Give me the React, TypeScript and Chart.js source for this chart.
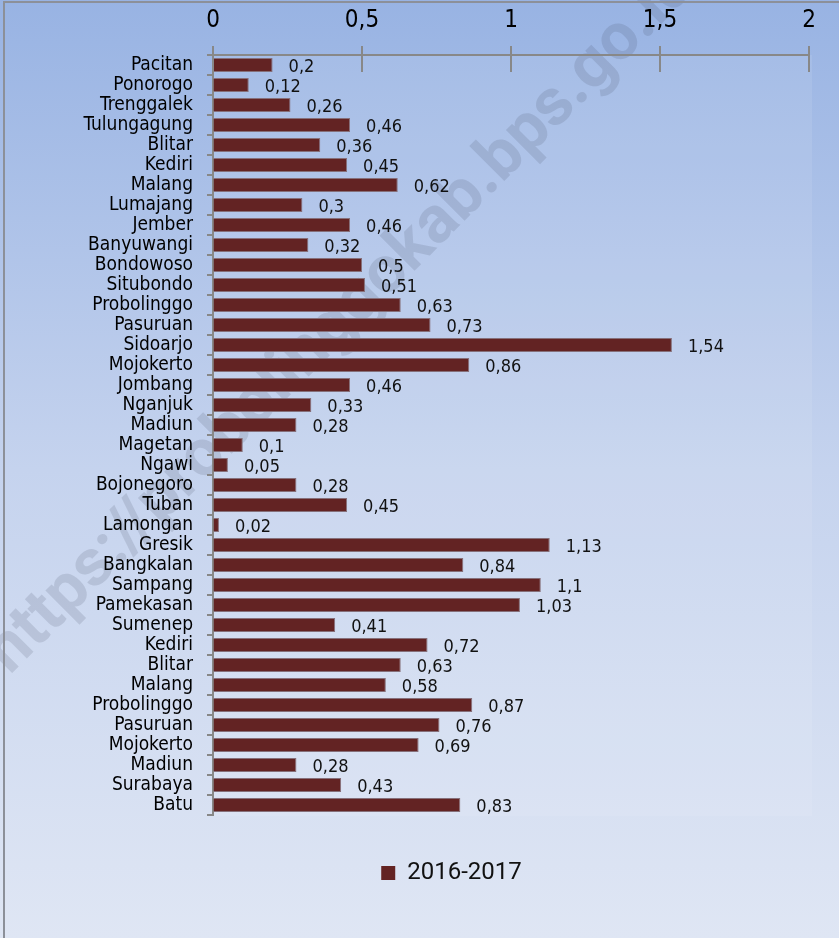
import React, { useEffect, useRef } from "react";
import { Chart, registerables } from "chart.js";

Chart.register(...registerables);

const categories: string[] = [
  "Pacitan", "Ponorogo", "Trenggalek", "Tulungagung", "Blitar", "Kediri", "Malang",
  "Lumajang", "Jember", "Banyuwangi", "Bondowoso", "Situbondo", "Probolinggo", "Pasuruan",
  "Sidoarjo", "Mojokerto", "Jombang", "Nganjuk", "Madiun", "Magetan", "Ngawi",
  "Bojonegoro", "Tuban", "Lamongan", "Gresik", "Bangkalan", "Sampang", "Pamekasan",
  "Sumenep", "Kediri", "Blitar", "Malang", "Probolinggo", "Pasuruan", "Mojokerto",
  "Madiun", "Surabaya", "Batu",
];

const values2016_2017: number[] = [
  0.2, 0.12, 0.26, 0.46, 0.36, 0.45, 0.62,
  0.3, 0.46, 0.32, 0.5, 0.51, 0.63, 0.73,
  1.54, 0.86, 0.46, 0.33, 0.28, 0.1, 0.05,
  0.28, 0.45, 0.02, 1.13, 0.84, 1.1, 1.03,
  0.41, 0.72, 0.63, 0.58, 0.87, 0.76, 0.69,
  0.28, 0.43, 0.83,
];

const seriesLabel = "2016-2017";
const xTicks: number[] = [0, 0.5, 1, 1.5, 2];
const watermark = "https://probolinggokab.bps.go.id";

const LABEL_FONT = '"DejaVu Sans Condensed", "DejaVu Sans", sans-serif';
const fmt = (v: number) => String(v).replace(".", ",");

export default function App() {
  const ref = useRef<HTMLCanvasElement | null>(null);

  useEffect(() => {
    document.body.style.margin = "0";
    const canvas = ref.current;
    if (!canvas) return;

    const bgPlugin = {
      id: "bg",
      afterLayout(chart: any) {
        if (chart.legend) chart.legend.left += 94;
      },
      beforeDraw(chart: any) {
        const { ctx, width, height, chartArea } = chart;
        ctx.save();
        const g = ctx.createLinearGradient(0, 0, 0, height);
        g.addColorStop(0, "#98b3e3");
        g.addColorStop(0.5, "#c5d3ee");
        g.addColorStop(1, "#dfe6f4");
        ctx.fillStyle = g;
        ctx.fillRect(0, 0, width, height);
        ctx.fillStyle = "rgba(255,255,255,0.09)";
        ctx.fillRect(chartArea.left, chartArea.top, chartArea.right - chartArea.left + 3, chartArea.bottom - chartArea.top + 1);
        // watermark
        ctx.translate(0, 662);
        ctx.rotate(-Math.PI / 4);
        ctx.font = 'bold 66px Roboto, "Liberation Sans", sans-serif';
        ctx.fillStyle = "rgba(60,70,90,0.15)";
        ctx.textBaseline = "middle";
        const head = ctx.measureText("https://probolinggokab.bps.go").width;
        const dot = ctx.measureText(".").width;
        ctx.fillText(watermark, 905 - head - dot / 2, 0);
        ctx.setTransform(1, 0, 0, 1, 0, 0);
        // outer frame (left & top)
        ctx.strokeStyle = "#8c9099";
        ctx.lineWidth = 2;
        ctx.beginPath();
        ctx.moveTo(4, height);
        ctx.lineTo(4, 2);
        ctx.lineTo(width, 2);
        ctx.stroke();
        ctx.restore();
      },
      afterDatasetsDraw(chart: any) {
        const { ctx } = chart;
        const meta = chart.getDatasetMeta(0);
        const xs = chart.scales.x;
        const top = chart.chartArea.top;
        ctx.save();
        // crossing tick marks on top axis
        ctx.strokeStyle = "#888888";
        ctx.lineWidth = 2;
        xs.ticks.forEach((t: any) => {
          const px = Math.round(xs.getPixelForValue(t.value));
          ctx.beginPath();
          ctx.moveTo(px, top - 9);
          ctx.lineTo(px, top + 17);
          ctx.stroke();
        });
        // data labels
        ctx.font = `18px ${LABEL_FONT}`;
        ctx.fillStyle = "#111111";
        ctx.textBaseline = "middle";
        ctx.textAlign = "left";
        meta.data.forEach((el: any, i: number) => {
          ctx.fillText(fmt(values2016_2017[i]), el.x + 16, el.y + 2);
        });
        ctx.restore();
      },
    };

    const chart = new Chart(canvas, {
      type: "bar",
      data: {
        labels: categories,
        datasets: [
          {
            label: seriesLabel,
            data: values2016_2017,
            backgroundColor: "#632323",
            borderColor: "#86707a",
            borderWidth: 1,
            categoryPercentage: 0.7,
            barPercentage: 1,
          },
        ],
      },
      options: {
        indexAxis: "y",
        responsive: false,
        animation: false,
        layout: { padding: { left: 0, right: 30, top: 0, bottom: 43 } },
        scales: {
          x: {
            position: "top",
            min: 0,
            max: 2,
            afterBuildTicks: (scale: any) => {
              scale.ticks = xTicks.map((v) => ({ value: v }));
            },
            afterFit: (scale: any) => {
              scale.height = 55;
            },
            ticks: {
              padding: 20,
              color: "#000000",
              font: { family: LABEL_FONT, size: 24 },
              callback: (v: any) => fmt(Number(v)),
              maxRotation: 0,
            },
            grid: { display: true, drawOnChartArea: false, drawTicks: false, color: "#888888" },
            border: { display: true, color: "#888888", width: 2 },
          },
          y: {
            afterFit: (scale: any) => {
              scale.width = 213;
            },
            ticks: {
              padding: 14,
              color: "#000000",
              autoSkip: false,
              font: { family: LABEL_FONT, size: 19 },
            },
            grid: {
              display: true,
              drawOnChartArea: false,
              drawTicks: true,
              tickLength: 6,
              offset: true,
              color: "#888888",
              lineWidth: 2,
            },
            border: { display: true, color: "#888888", width: 2 },
          },
        },
        plugins: {
          legend: {
            display: true,
            position: "bottom",
            labels: {
              boxWidth: 14,
              boxHeight: 14,
              padding: 46,
              color: "#111111",
              font: { family: "Roboto, sans-serif", size: 24 },
              generateLabels: (c: any) =>
                Chart.defaults.plugins.legend.labels
                  .generateLabels(c)
                  .map((l: any) => ({ ...l, lineWidth: 0 })),
            },
          },
          tooltip: { enabled: false },
        },
      },
      plugins: [bgPlugin],
    } as any);

    return () => chart.destroy();
  }, []);

  return <canvas ref={ref} width={839} height={938} style={{ display: "block" }} />;
}
